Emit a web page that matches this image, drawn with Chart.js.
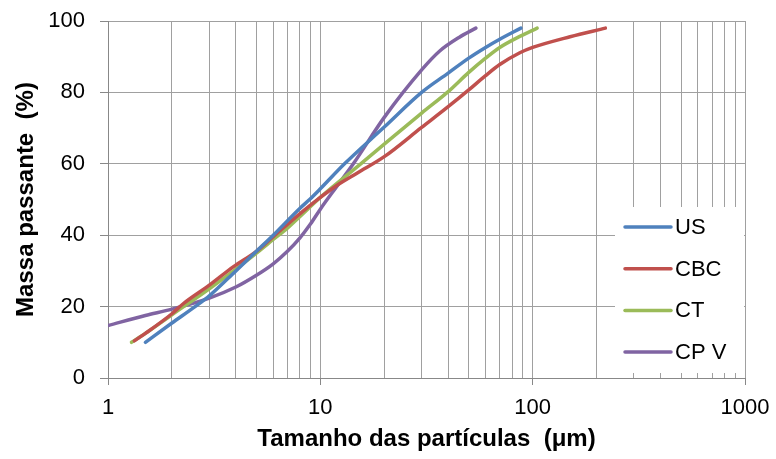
<!DOCTYPE html>
<html>
<head>
<meta charset="utf-8">
<script src="https://cdn.jsdelivr.net/npm/chart.js@4.4.1/dist/chart.umd.min.js"></script>
<style>
  html, body { margin: 0; padding: 0; background: #ffffff; }
  #wrap { width: 776px; height: 459px; }
</style>
</head>
<body>
<div id="wrap"><canvas id="c" width="776" height="459"></canvas></div>
<script>
// ---- Data ----
const seriesNames = ['US', 'CBC', 'CT', 'CP V'];

const usSize = [1.5, 2, 2.57, 3, 4, 5, 6, 8, 8.9, 10, 13, 20, 30, 40, 50, 60, 70, 88];
const usPass = [10, 15.4, 20, 23, 30, 35.5, 40, 47.5, 50, 53, 60, 70.3, 80, 85.4, 89.6, 92.6, 94.9, 98];

const cbcSize = [1.33, 1.5, 2, 2.26, 3, 3.9, 5, 6, 8, 10, 12, 15, 20, 30, 40, 50, 60, 70, 87, 100, 150, 220];
const cbcPass = [10.4, 12.5, 18, 20.8, 26, 31.2, 35.5, 39.6, 46, 50.6, 54, 57.5, 62, 70.2, 76, 80.7, 84.7, 87.8, 91.1, 92.6, 95.6, 98];

const ctSize = [1.29, 1.5, 2, 3, 4, 5, 6, 7, 8, 10, 15.5, 20, 30, 40, 50, 60, 70, 87, 105];
const ctPass = [10, 12.5, 17.7, 25, 30.5, 35, 38.8, 42, 45.2, 50.6, 60, 65.5, 74.2, 80.2, 85.6, 89.6, 92.6, 95.7, 98];

const cpvSize = [1, 1.5, 2, 3, 4, 5, 6, 7, 8, 9, 10, 12, 14.3, 20, 30, 36.5, 45, 54];
const cpvPass = [14.7, 17.5, 19.3, 22.4, 25.5, 28.8, 32, 35.5, 39.2, 43.2, 47.3, 53.8, 60, 73, 86.3, 91.6, 95.4, 98];

const xMajorTicks = [1, 10, 100, 1000];
const yTicksMin = 0, yTicksMax = 100, yTickStep = 20;
const xTitle = 'Tamanho das partículas  (μm)';
const yTitle = 'Massa passante  (%)';

// ---- Styling ----
const colors = ['#4F81BD', '#C0504D', '#9BBB59', '#8064A2'];
const FONT = '"Liberation Sans", Arial, Helvetica, sans-serif';

function toPoints(xs, ys) { return xs.map((x, i) => ({ x: x, y: ys[i] })); }

const sizeArrays = [usSize, cbcSize, ctSize, cpvSize];
const passArrays = [usPass, cbcPass, ctPass, cpvPass];

const datasets = seriesNames.map((name, i) => ({
  label: name,
  data: toPoints(sizeArrays[i], passArrays[i]),
  borderColor: colors[i],
  backgroundColor: colors[i],
  borderWidth: 3.5,
  pointRadius: 0,
  pointHoverRadius: 0,
  fill: false,
  tension: 0.4,
  cubicInterpolationMode: 'monotone',
  borderCapStyle: 'round',
  borderJoinStyle: 'round'
}));

const boxLegend = {
  id: 'boxLegend',
  afterDraw(chart) {
    const ctx = chart.ctx, a = chart.chartArea;
    const x0 = a.right - 130, y0 = a.bottom - 171, w = 129, h = 166;
    ctx.save();
    ctx.fillStyle = '#ffffff';
    ctx.fillRect(x0, y0, w, h);
    chart.data.datasets.forEach((ds, i) => {
      const y = y0 + 20 + i * 41.7;
      ctx.strokeStyle = ds.borderColor;
      ctx.lineWidth = 3.5;
      ctx.lineCap = 'round';
      ctx.beginPath();
      ctx.moveTo(x0 + 10, y);
      ctx.lineTo(x0 + 56, y);
      ctx.stroke();
      ctx.fillStyle = '#000000';
      ctx.font = '22px ' + FONT;
      ctx.textBaseline = 'middle';
      ctx.textAlign = 'left';
      ctx.fillText(ds.label, x0 + 60, y + 1);
    });
    ctx.restore();
  }
};

new Chart(document.getElementById('c'), {
  type: 'line',
  data: { datasets: datasets },
  options: {
    responsive: false,
    animation: false,
    events: [],
    layout: { padding: { top: 21, right: 31, left: 0, bottom: 0 } },
    plugins: {
      legend: { display: false },
      tooltip: { enabled: false },
      title: { display: false }
    },
    scales: {
      x: {
        type: 'logarithmic',
        min: xMajorTicks[0],
        max: xMajorTicks[xMajorTicks.length - 1],
        afterBuildTicks(scale) {
          const t = [];
          for (let d = 0; d < xMajorTicks.length - 1; d++) {
            for (let m = 1; m < 10; m++) t.push({ value: xMajorTicks[d] * m });
          }
          t.push({ value: xMajorTicks[xMajorTicks.length - 1] });
          scale.ticks = t;
        },
        afterFit(scale) {
          scale.height = 81;
          scale.paddingLeft = 0; scale.paddingRight = 0;
          scale.paddingTop = 0; scale.paddingBottom = 0;
        },
        ticks: {
          autoSkip: false,
          maxRotation: 0,
          padding: 10,
          color: '#000000',
          font: { family: FONT, size: 22 },
          callback: (v) => xMajorTicks.includes(v) ? String(v) : ''
        },
        grid: {
          color: '#a0a0a0',
          lineWidth: 1,
          tickLength: 7,
          tickColor: (c) => (c.tick && xMajorTicks.includes(c.tick.value)) ? '#888888' : 'rgba(0,0,0,0)'
        },
        border: { color: '#888888', width: 1 },
        title: {
          display: true,
          text: xTitle,
          color: '#000000',
          font: { family: FONT, size: 24, weight: 'bold' },
          padding: { top: 0, bottom: 5 }
        }
      },
      y: {
        type: 'linear',
        min: yTicksMin,
        max: yTicksMax,
        afterFit(scale) {
          scale.width = 108;
          scale.paddingLeft = 0; scale.paddingRight = 0;
          scale.paddingTop = 0; scale.paddingBottom = 0;
        },
        ticks: {
          stepSize: yTickStep,
          padding: 15,
          color: '#000000',
          font: { family: FONT, size: 22 }
        },
        grid: {
          color: '#a0a0a0',
          lineWidth: 1,
          tickLength: 8,
          tickColor: '#888888'
        },
        border: { color: '#888888', width: 1 },
        title: {
          display: true,
          text: yTitle,
          color: '#000000',
          font: { family: FONT, size: 24, weight: 'bold' },
          padding: { top: 12, bottom: 0 }
        }
      }
    }
  },
  plugins: [boxLegend]
});
</script>
</body>
</html>
